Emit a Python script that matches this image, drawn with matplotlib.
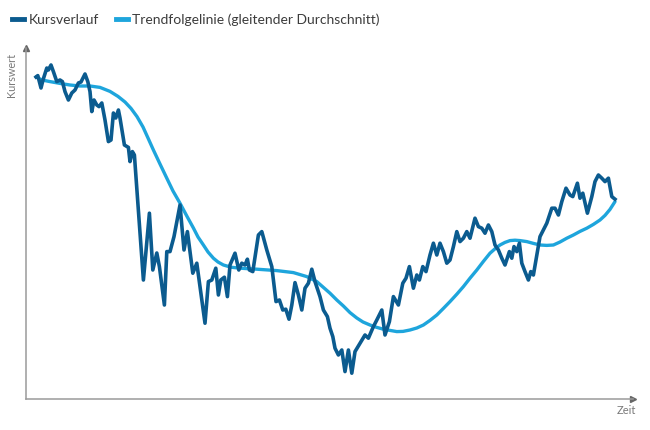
import numpy as np
import matplotlib
matplotlib.use('Agg')
import matplotlib.pyplot as plt
from matplotlib.lines import Line2D

######################
# Data (time in arbitrary units, Kurswert in arbitrary units)
kurs_t = [5, 5.9, 7.5, 8.5, 10.4, 11.2, 12.5, 13.7, 15.4, 17, 18.2, 19.5, 21.2,
          22.9, 24.5, 26.2, 27.5, 29.5, 30.9, 32, 32.9, 34, 35.4, 36.5, 37.9,
          39.5, 41.2, 42.5, 43.7, 44.9, 46.2, 47, 49.2, 51.2, 52, 53.2, 54.2,
          58.7, 61.7, 63.4, 65.4, 66.7, 69.2, 70.4, 72, 74, 77, 79, 80.7, 83.4,
          85.4, 89.5, 91.2, 92.9, 94.9, 96.2, 97.4, 99.2, 100.7, 102, 104.5,
          106.4, 107.9, 109.5, 110.7, 111.7, 113.4, 116.2, 117.9, 120.4, 122.9,
          125, 126.7, 128.4, 129.9, 131.5, 132.9, 134.5, 136.2, 137.9, 139.5,
          141.2, 142.9, 144.5, 147, 148.7, 150.7, 152, 153.4, 154.5, 156.2,
          157.9, 159.5, 161.2, 162.9, 164.5, 167, 169.5, 171.2, 173.7, 175.4,
          177.9, 179.5, 181.7, 183.7, 186.2, 188.4, 190, 191.7, 193.7, 195.4,
          196.7, 198.4, 200, 202, 203.7, 205.4, 207, 208.7, 210.4, 212, 213.7,
          215.4, 217, 218.7, 220.4, 222, 224.5, 226.2, 227.9, 229.5, 231.2,
          232.9, 234.5, 236.2, 237.9, 239.5, 241.7, 242.9, 244, 245.4, 246.7,
          247.9, 249.5, 251.2, 252.4, 253.7, 255.4, 257, 260.4, 262.9, 264.5,
          266.2, 267.9, 270, 272, 273.4, 275.7, 277, 278.4, 280.7, 282.9, 284.5,
          286.2, 287.9, 289.5, 291.2, 292.9, 294.5]
kurs_v = [161.5, 162.2, 156, 160, 166, 165, 167.5, 164.2, 159.2, 160, 159.2,
          154.2, 150, 153.5, 155, 158.5, 159, 163, 159.2, 154.2, 144.2, 150,
          147.5, 146.7, 148.5, 140, 129.2, 130, 143.5, 141, 145, 141, 127.5,
          126.3, 119.2, 124.2, 122.5, 60, 93.4, 65, 73.5, 66.7, 47.5, 74.2,
          74.2, 81.7, 97.5, 75, 84.2, 63.4, 68.4, 38.4, 59.2, 60, 65.9, 52.5,
          60, 61.4, 51.7, 67.5, 73.4, 65, 68.4, 67.5, 70.4, 65, 64.2, 82.5,
          84.2, 75, 66.7, 49.2, 50, 45, 45.4, 40.4, 47.5, 58.7, 52.5, 45, 55.9,
          58.4, 65.4, 59.2, 51.7, 45, 41.7, 35.9, 31.7, 25.9, 22.5, 25, 14.2,
          25, 13.4, 24.2, 28.4, 32.5, 30.9, 36.7, 40, 45, 32.5, 39.2, 51.7,
          47.5, 58.4, 60.9, 66.7, 55.9, 62.5, 60, 66.7, 64.2, 72.5, 78.4, 72.5,
          78.4, 74.2, 68.4, 70, 76.7, 84.2, 79.2, 80.9, 84.2, 80.9, 90.9, 86.7,
          85.9, 83.4, 87.5, 84.2, 77.5, 75, 70.9, 67.5, 74.2, 70.9, 76.7, 74.2,
          78.4, 68.4, 64.2, 60, 64.2, 62.5, 72.5, 81.7, 88.4, 95.9, 95.9, 92.5,
          99.2, 105.9, 102.5, 101.7, 108.4, 100.9, 103.4, 93.4, 101.7, 109.2,
          112.5, 110.9, 109.2, 110.9, 101.7, 100.4]

trend_t = [5, 8, 12, 17, 22, 27, 32, 37, 42, 46, 49.5, 52.5, 55.5, 58.5, 61,
           63.7, 67, 70.4, 73.5, 77, 80.4, 83.7, 86, 88.7, 91, 93.7, 96, 98.7,
           102.5, 107, 115.4, 125.4, 133.7, 140.4, 145.4, 148.7, 152, 155.4,
           158.7, 162, 165.4, 168.5, 172, 175.4, 178.7, 182, 185.4, 188.5, 192,
           195.4, 198.7, 202, 205.4, 208.7, 212, 215.4, 218.7, 222, 225.4,
           228.7, 232, 234.5, 237, 239.5, 242, 244.5, 247, 250.4, 253.7, 257,
           260.4, 263.7, 267, 270.4, 273.7, 277, 280.4, 283.7, 287, 289.5, 292,
           294.5]
trend_v = [161.5, 160, 159.2, 158.3, 157.5, 157, 157, 156.3, 154.3, 151.8, 149,
           145.8, 141.7, 136.5, 131, 125, 118, 110.9, 104.5, 98.4, 92, 86, 81.5,
           77.5, 74, 70.9, 69, 67.5, 66.4, 65.9, 65.4, 64.7, 63.7, 61.7, 59.2,
           56.3, 53.4, 50, 47, 43.7, 41, 39, 37.5, 36.3, 35.4, 34.8, 34.2, 34.3,
           35, 36, 37.5, 39.8, 42.5, 45.8, 49.2, 52.9, 56.7, 60.9, 65, 69.3,
           73.4, 75.6, 77.5, 78.8, 79.7, 79.9, 79.7, 79.2, 78.3, 77.5, 77.3,
           77.5, 79, 80.9, 82.5, 84.3, 85.9, 87.8, 90, 92.3, 95.3, 99.2]

labels = ['Kursverlauf', 'Trendfolgelinie (gleitender Durchschnitt)']
dark_blue = '#0b5b8f'
light_blue = '#1ea5dc'

plt.rcParams['font.family'] = ['Lato', 'DejaVu Sans']

######################
# Figure and axes
fig = plt.figure(figsize=(6.5, 4.3), dpi=100)
ax = fig.add_axes([26 / 650, 31 / 430, 607 / 650, 351 / 430])

ax.plot(trend_t, trend_v, color=light_blue, lw=2.4, solid_capstyle='round',
        solid_joinstyle='round', zorder=2)
ax.plot(kurs_t, kurs_v, color=dark_blue, lw=2.6, solid_joinstyle='round',
        zorder=3)

ax.set_xlim(0, 303.5)
ax.set_ylim(0.5, 176)
ax.set_xticks([])
ax.set_yticks([])
for side in ['top', 'right']:
    ax.spines[side].set_visible(False)
for side in ['left', 'bottom']:
    ax.spines[side].set_color('#9a9a9a')
    ax.spines[side].set_linewidth(1.1)

# arrow heads at the end of both axes
ax.plot(1, 0, marker='>', ms=5, color='#666666', transform=ax.transAxes,
        clip_on=False)
ax.plot(0, 1, marker='^', ms=5, color='#666666', transform=ax.transAxes,
        clip_on=False)

fig.text(12 / 650, 1 - 75 / 430, 'Kurswert', rotation=90, ha='center',
         va='center', fontsize=7.8, color='#7a7a7a')
fig.text(626 / 650, 1 - 411 / 430, 'Zeit', ha='center', va='center',
         fontsize=8, color='#7a7a7a')

######################
# Legend
handles = [Line2D([], [], color=dark_blue, lw=3.5),
           Line2D([], [], color=light_blue, lw=3.5)]
fig.legend(handles, labels, loc='center left',
           bbox_to_anchor=(12 / 650, 1 - 20 / 430), ncol=2, frameon=False,
           fontsize=10, handlelength=0.85, handletextpad=0.35,
           columnspacing=1.2, borderpad=0, borderaxespad=0,
           labelcolor='#3c3c3c')

fig.savefig('out.png', dpi=100)
